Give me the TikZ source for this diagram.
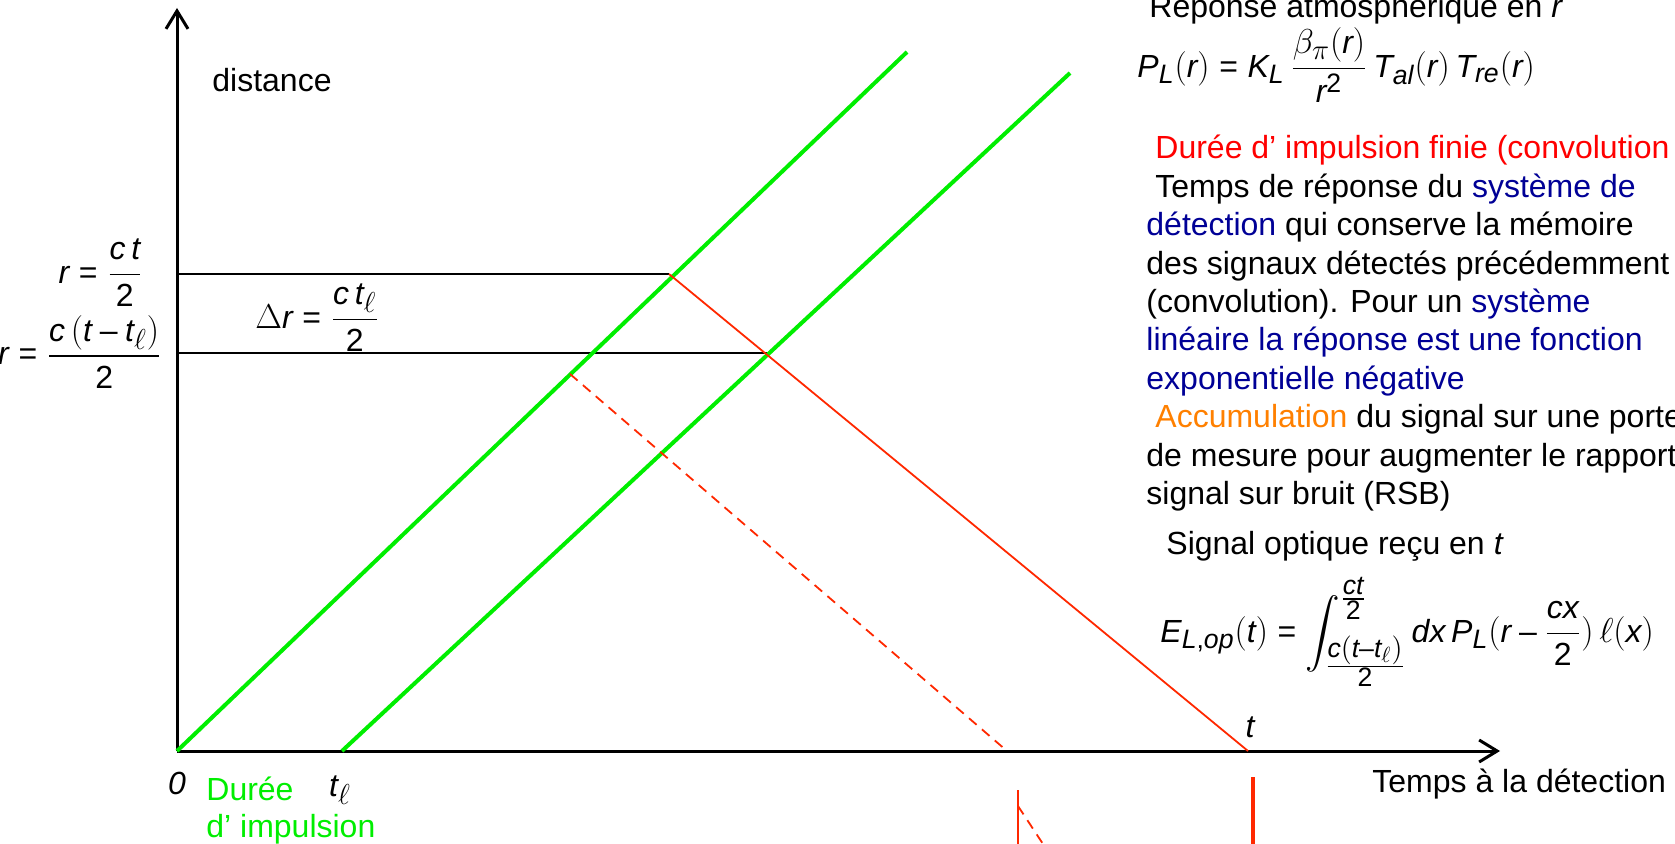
\documentclass[tikz,border=0pt]{standalone}
\usepackage{amsmath}
\usepackage{fontspec}
\setmainfont{Liberation Sans}
\usepackage[italic]{mathastext}
\usetikzlibrary{arrows.meta}

\definecolor{pulsegreen}{RGB}{0,238,0}
\definecolor{echored}{RGB}{255,40,0}
\definecolor{navy}{RGB}{0,0,150}
\definecolor{accorange}{RGB}{255,128,0}

\newcommand{\nb}[1]{\text{#1}}
\newcommand{\eqs}{\mathrel{\text{=}}}

\begin{document}
\begin{tikzpicture}[
    x=0.5pt, y=-0.5pt,
    axis/.style={line width=1.5pt, -{Straight Barb[length=9pt, width=11pt, line width=1.5pt]}},
    guide/.style={line width=1pt},
    pulse/.style={pulsegreen, line width=2pt},
    echo/.style={echored, line width=0.9pt},
    echodash/.style={echo, dash pattern=on 5pt off 3.5pt},
    lbl/.style={inner sep=0pt, font=\fontsize{16}{18.5}\selectfont},
    txt/.style={inner sep=0pt, align=left, font=\fontsize{16}{19.2}\selectfont},
]
\useasboundingbox (0,0) rectangle (1675,844);

% key points of the time--distance plot
\coordinate (O) at (177,751);
\coordinate (tl) at (342,751);
\coordinate (T) at (1248,751);
\coordinate (D) at (1007,751);
\coordinate (A) at (669,274);
\coordinate (B) at (768,353);
\coordinate (C) at (570,374);
\coordinate (g1) at (907,52);
\coordinate (g2) at (1070,73);

% axes and range levels
\draw[guide] (O |- A) -- (A);
\draw[guide] (O |- B) -- (B);
\draw[axis] (O) -- (177,8);
\draw[axis] (O) -- (1500,751);

% emitted pulse and back-scattered signal
\draw[pulse] (O) -- (g1);
\draw[pulse] (tl) -- (g2);
\draw[echo] (A) -- (T);
\draw[echodash] (C) -- (D);
\draw[echo, line width=1.6pt] (1253,777) -- (1253,844);
\draw[echo] (1018,790) -- (1018,844);
\draw[echodash] (1018,806) -- (1043,844);

% axis labels
\node[lbl, anchor=base west] (dist) at (212,92) {distance};
\node[lbl, anchor=base west] (tdet) at (1372,792) {Temps à la détection};
\node[lbl] (zero) at (177,783) {\textit{0}};
\node[lbl] (tell) at (340,790) {$t_\ell$};
\node[lbl] (tt) at (1250,727) {$t$};
\node[lbl, pulsegreen, align=left, anchor=north west] (dur) at (206,777) {Durée\\d’ impulsion};

% range formulas
\node[lbl, anchor=east] (rct) at (143,273) {$r \eqs \dfrac{c\,t}{\nb{2}}$};
\node[lbl, anchor=east] (rctl) at (162,352) {$r \eqs \dfrac{c\left(t-t_\ell\right)}{\nb{2}}$};
\node[lbl, anchor=west] (dr) at (255,318) {$\Delta r \eqs \dfrac{c\,t_\ell}{\nb{2}}$};

% right column
\node[txt, anchor=base west] (resp) at (1149,18) {Réponse atmosphérique en \textit{r}};
\node[lbl, anchor=west] (PL) at (1137,65) {$P_L(r) \eqs K_L\,\dfrac{\beta_\pi(r)}{r^{\nb{2}}}\,T_{al}(r)\,T_{re}(r)$};
\node[txt, anchor=north west] (notes) at (1146,135) {%
\hspace*{4.5pt}\textcolor{red}{Durée d’ impulsion finie (convolution}\\
\hspace*{4.5pt}Temps de réponse du \textcolor{navy}{système de}\\
\textcolor{navy}{détection} qui conserve la mémoire\\
des signaux détectés précédemment\\
(convolution). Pour un \textcolor{navy}{système}\\
\textcolor{navy}{linéaire la réponse est une fonction}\\
\textcolor{navy}{exponentielle négative}\\
\hspace*{4.5pt}\textcolor{accorange}{Accumulation} du signal sur une porte\\
de mesure pour augmenter le rapport\\
signal sur bruit (RSB)};
\node[txt, anchor=base west] (sig) at (1166,554) {Signal optique reçu en \textit{t}};
\node[lbl, anchor=west] (EL) at (1160,632) {$E_{L,op}(t) \eqs \displaystyle\int_{\frac{\scriptstyle c\left(t-t_\ell\right)}{\scriptstyle\nb{2}}}^{\frac{\scriptstyle ct}{\scriptstyle\nb{2}}} dx\,P_L(r-\dfrac{cx}{\nb{2}})\,\ell(x)$};
\end{tikzpicture}
\end{document}
